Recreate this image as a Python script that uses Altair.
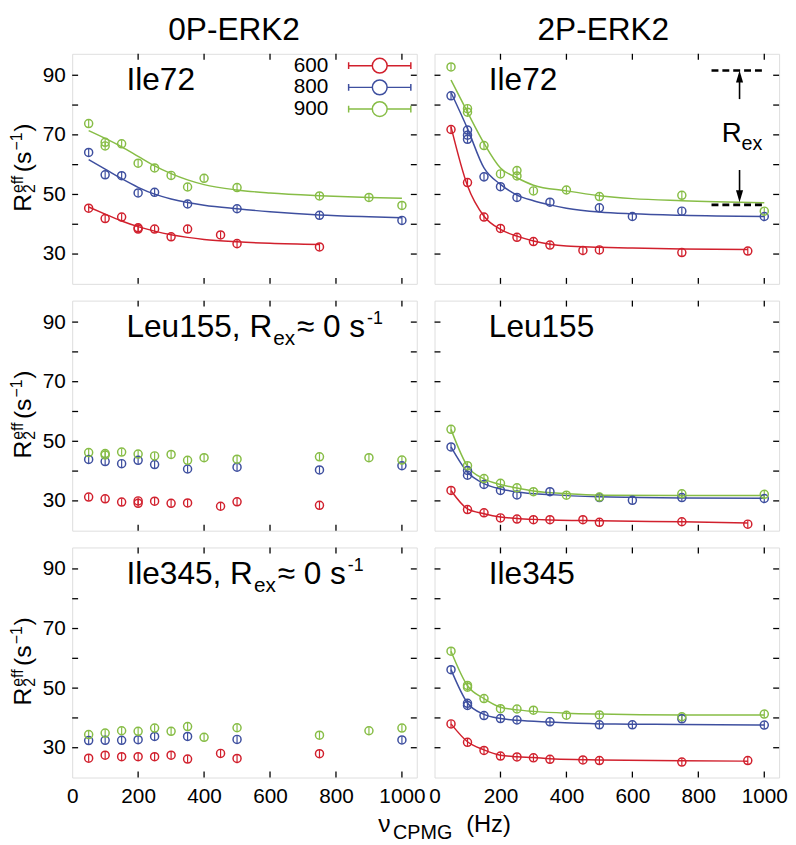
import altair as alt
import pandas as pd

FONT = "Liberation Sans"
FIELDS = ["600", "800", "900"]
COLORS = ["#d1202d", "#3e4f9f", "#87bd46"]
ERR = 1.2  # half height of the error bars (s^-1)

X_DOMAIN = [0, 1045]
Y_DOMAIN = [20, 97.2]
X_LABELS = [0, 200, 400, 600, 800, 1000]
X_TICKS = [200, 400, 600, 800, 1000]
Y_LABELS = [30, 50, 70, 90]
Y_TICKS = [30, 40, 50, 60, 70, 80, 90]

# ---------------- 0P-ERK2, Ile72 ----------------
A600_X = [50, 100, 150, 200, 200, 250, 300, 350, 450, 500, 750]
A600_Y = [45.4, 41.9, 42.4, 38.8, 38.4, 38.4, 35.8, 38.4, 36.4, 33.5, 32.4]
A800_X = [50, 100, 150, 200, 250, 350, 500, 750, 1000]
A800_Y = [64.1, 56.6, 56.3, 50.5, 50.7, 46.8, 45.2, 43.0, 41.3]
A900_X = [50, 100, 100, 150, 200, 250, 300, 350, 400, 500, 750, 900, 1000]
A900_Y = [73.8, 67.5, 66.3, 67.0, 60.5, 58.9, 56.4, 52.5, 55.4, 52.3, 49.5, 49.0, 46.3]
AF600_X = [50, 100, 150, 200, 250, 300, 350, 400, 500, 600, 750]
AF600_Y = [45.8, 43.4, 41.1, 39.2, 37.7, 36.5, 35.6, 34.9, 34.1, 33.6, 33.2]
AF800_X = [50, 100, 150, 200, 250, 300, 350, 400, 500, 600, 750, 900, 1000]
AF800_Y = [61.7, 58.5, 55.3, 52.4, 50.1, 48.5, 47.3, 46.4, 45.2, 44.2, 43.1, 42.5, 42.2]
AF900_X = [50, 100, 150, 200, 250, 300, 350, 400, 500, 600, 750, 900, 1000]
AF900_Y = [71.4, 68.8, 66.0, 62.8, 59.6, 57.0, 54.9, 53.3, 51.5, 50.5, 49.6, 49.0, 48.7]

# ---------------- 2P-ERK2, Ile72 ----------------
B600_X = [50, 100, 150, 200, 250, 300, 350, 450, 500, 750, 950]
B600_Y = [71.8, 54.0, 42.4, 38.6, 35.6, 34.2, 33.0, 31.2, 31.4, 30.5, 31.0]
B800_X = [50, 100, 100, 100, 150, 200, 250, 350, 500, 600, 750, 1000]
B800_Y = [83.1, 71.6, 69.9, 68.5, 55.9, 52.6, 49.0, 47.4, 45.5, 42.6, 44.4, 42.6]
B900_X = [50, 100, 100, 150, 200, 250, 250, 300, 400, 500, 750, 1000]
B900_Y = [92.8, 78.8, 77.6, 66.4, 56.9, 58.0, 56.2, 51.2, 51.5, 49.3, 49.7, 44.4]
BF600_X = [50, 100, 150, 200, 250, 300, 350, 400, 500, 600, 750, 950]
BF600_Y = [72.7, 52.9, 42.7, 38.3, 36.0, 34.4, 33.3, 32.7, 32.3, 32.0, 31.7, 31.5]
BF800_X = [50, 100, 150, 200, 250, 300, 350, 400, 500, 600, 750, 1000]
BF800_Y = [84.2, 72.1, 58.9, 53.4, 49.8, 47.9, 46.5, 45.4, 44.1, 43.5, 43.0, 42.6]
BF900_X = [50, 100, 150, 200, 250, 300, 400, 500, 600, 750, 1000]
BF900_Y = [88.4, 77.6, 67.2, 58.9, 55.6, 53.1, 51.2, 49.6, 48.6, 47.9, 47.2]

# R_ex annotation (2P-ERK2, Ile72)
REX_LEVELS = [91.6, 46.5]
REX_SPAN = [840, 1000]
ARROW_X = [925]
ARROW_UP = [82.0, 89.6]
ARROW_DOWN = [58.2, 49.4]

# ---------------- 0P-ERK2, Leu155 ----------------
C600_X = [50, 100, 150, 200, 200, 250, 300, 350, 450, 500, 750]
C600_Y = [31.3, 30.7, 29.6, 30.0, 29.2, 29.9, 29.2, 29.3, 28.2, 29.7, 28.5]
C800_X = [50, 100, 150, 200, 250, 350, 500, 750, 1000]
C800_Y = [43.9, 43.2, 42.5, 43.6, 42.2, 40.7, 41.3, 40.4, 41.8]
C900_X = [50, 100, 100, 150, 200, 250, 300, 350, 400, 500, 750, 900, 1000]
C900_Y = [46.2, 45.9, 45.4, 46.4, 45.7, 45.1, 45.6, 43.6, 44.5, 44.0, 44.8, 44.5, 43.7]

# ---------------- 2P-ERK2, Leu155 ----------------
D600_X = [50, 100, 150, 200, 250, 300, 350, 450, 500, 750, 950]
D600_Y = [33.5, 27.1, 26.0, 24.3, 23.9, 23.7, 23.7, 23.7, 22.8, 23.0, 22.2]
D800_X = [50, 100, 100, 150, 200, 250, 350, 500, 600, 750, 1000]
D800_Y = [48.1, 40.2, 38.6, 35.5, 33.5, 32.0, 33.1, 31.1, 30.2, 31.1, 30.8]
D900_X = [50, 100, 150, 200, 250, 300, 400, 500, 750, 1000]
D900_Y = [54.0, 41.8, 37.5, 35.9, 34.4, 33.1, 31.9, 31.3, 32.4, 32.2]
DF600_X = [50, 100, 150, 200, 250, 300, 350, 450, 500, 750, 950]
DF600_Y = [33.5, 27.3, 25.7, 24.6, 24.1, 23.8, 23.6, 23.4, 23.3, 23.0, 22.6]
DF800_X = [50, 100, 150, 200, 250, 350, 500, 600, 750, 1000]
DF800_Y = [48.1, 39.6, 35.8, 34.0, 33.0, 32.1, 31.4, 31.2, 31.0, 30.9]
DF900_X = [50, 100, 150, 200, 250, 300, 400, 500, 750, 1000]
DF900_Y = [54.0, 41.6, 37.4, 35.5, 34.3, 33.3, 32.4, 31.9, 31.8, 31.8]

# ---------------- 0P-ERK2, Ile345 ----------------
E600_X = [50, 100, 150, 200, 250, 300, 350, 450, 500, 750]
E600_Y = [26.5, 27.5, 27.0, 27.0, 27.0, 27.5, 26.2, 28.1, 26.4, 28.0]
E800_X = [50, 100, 150, 200, 250, 350, 500, 1000]
E800_Y = [32.4, 32.5, 32.5, 32.7, 33.8, 33.8, 32.8, 32.6]
E900_X = [50, 100, 150, 200, 250, 300, 350, 400, 500, 750, 900, 1000]
E900_Y = [34.4, 34.9, 35.7, 35.5, 36.6, 35.5, 37.1, 33.5, 36.7, 34.2, 35.7, 36.6]

# ---------------- 2P-ERK2, Ile345 ----------------
F600_X = [50, 100, 150, 200, 250, 300, 350, 450, 500, 750, 950]
F600_Y = [38.0, 31.8, 29.1, 27.2, 26.9, 26.6, 26.1, 25.9, 25.7, 25.2, 25.7]
F800_X = [50, 100, 100, 150, 200, 250, 350, 500, 600, 750, 1000]
F800_Y = [56.2, 44.9, 44.2, 40.8, 39.8, 39.3, 38.7, 37.7, 37.7, 39.7, 37.6]
F900_X = [50, 100, 100, 150, 200, 250, 300, 400, 500, 750, 1000]
F900_Y = [62.4, 50.9, 50.3, 46.5, 43.1, 43.0, 42.6, 40.9, 41.0, 40.4, 41.3]
FF600_X = [50, 100, 150, 200, 250, 300, 350, 450, 500, 750, 950]
FF600_Y = [38.0, 32.0, 29.3, 27.5, 27.0, 26.7, 26.3, 26.0, 25.9, 25.6, 25.5]
FF800_X = [50, 100, 150, 200, 250, 350, 500, 600, 750, 1000]
FF800_Y = [56.2, 45.0, 41.2, 39.8, 39.2, 38.6, 38.0, 37.9, 37.8, 37.6]
FF900_X = [50, 100, 150, 200, 250, 300, 400, 500, 750, 1000]
FF900_Y = [62.4, 50.8, 46.5, 43.6, 42.7, 42.2, 41.6, 41.3, 41.0, 41.0]

W, H = 349, 233

XSC = alt.Scale(domain=X_DOMAIN, nice=False, zero=False)
YSC = alt.Scale(domain=Y_DOMAIN, nice=False, zero=False)
CSC = alt.Scale(domain=FIELDS, range=COLORS)

LEGEND_SYMBOL = ("M-3.15,0H-0.75M0.75,0H3.15M-3.15,-0.35V0.35M3.15,-0.35V0.35"
                 "M0.75,0A0.75,0.75,0,1,1,-0.75,0A0.75,0.75,0,1,1,0.75,0Z")
LEGEND = alt.Legend(
    title=None, orient="none", legendX=235, legendY=1, direction="vertical",
    symbolType=LEGEND_SYMBOL, symbolSize=400, symbolStrokeWidth=1.5, symbolOpacity=1,
    symbolFillColor="transparent",
    labelFont=FONT, labelFontSize=21, labelColor="black", labelAlign="right",
    labelOffset={"expr": "-63"}, symbolOffset=65.5, rowPadding=0, padding=0, labelLimit=0,
)
COLOR = alt.Color("field:N", scale=CSC, legend=LEGEND)


def frame(xs_list, ys_list):
    rows = []
    for f, xs, ys in zip(FIELDS, xs_list, ys_list):
        rows += [{"field": f, "nu": x, "r2": y} for x, y in zip(xs, ys)]
    return pd.DataFrame(rows)


def seg(text, x, y, size, dx=0, dy=0, angle=0, align="left", baseline="alphabetic"):
    return alt.Chart(pd.DataFrame({"t": [text]})).mark_text(
        font=FONT, fontSize=size, align=align, baseline=baseline,
        dx=dx, dy=dy, angle=angle, color="black",
    ).encode(text="t:N", x=alt.value(x), y=alt.value(y))


def rex_label(name, main_w):
    # "<name>, R_ex ≈ 0 s^-1"
    return [
        seg(name + ", R", 55, 37, 32),
        seg("ex", 55, 37, 21, dx=main_w + 1, dy=8),
        seg("\u2248 0 s", 55, 37, 32, dx=main_w + 25),
        seg("-1", 55, 37, 18, dx=main_w + 96, dy=-13),
    ]


def ylabel():
    ax, ay = -42, 160
    return [
        seg("R", ax, ay, 25, angle=270),
        seg("eff", ax, ay, 16, dx=19, dy=-8, angle=270),
        seg("2", ax, ay, 16, dx=19, dy=4, angle=270),
        seg("(s", ax, ay, 25, dx=40, angle=270),
        seg("\u22121", ax, ay, 16, dx=62, dy=-9, angle=270),
        seg(")", ax, ay, 25, dx=81, angle=270),
    ]


def panel(pts, fit, labels, left, bottom, extra=()):
    xax = alt.Axis(values=X_LABELS, ticks=False, domain=False, grid=False, title=None,
                   labelFlush=False, labelPadding=8, labelFont=FONT, labelFontSize=21,
                   labelColor="black", format="d") if bottom else None
    yax = alt.Axis(values=Y_LABELS, ticks=False, domain=False, grid=False, title=None,
                   labelPadding=7, labelFont=FONT, labelFontSize=21,
                   labelColor="black", format="d") if left else None

    def X(f):
        return alt.X(f, scale=XSC, axis=xax)

    def Y(f):
        return alt.Y(f, scale=YSC, axis=yax)

    yt = alt.Chart(pd.DataFrame({"v": Y_TICKS}))
    xt = alt.Chart(pd.DataFrame({"v": X_TICKS}))
    rule = dict(color="black", strokeWidth=1.3)
    layers = [
        yt.mark_rule(**rule).encode(y=Y("v:Q"), x=alt.value(0), x2=alt.value(6)),
        yt.mark_rule(**rule).encode(y=Y("v:Q"), x=alt.value(W - 6), x2=alt.value(W)),
        xt.mark_rule(**rule).encode(x=X("v:Q"), y=alt.value(H - 6), y2=alt.value(H)),
        xt.mark_rule(**rule).encode(x=X("v:Q"), y=alt.value(0), y2=alt.value(6)),
    ]
    if fit is not None:
        layers.append(alt.Chart(frame(*fit)).mark_line(strokeWidth=1.5, interpolate="monotone").encode(
            x=X("nu:Q"), y=Y("r2:Q"), color=COLOR, detail="field:N"))
    base = alt.Chart(frame(*pts))
    layers.append(base.transform_calculate(lo=f"datum.r2 - {ERR}", hi=f"datum.r2 + {ERR}").mark_rule(
        strokeWidth=1.2).encode(x=X("nu:Q"), y=Y("lo:Q"), y2="hi:Q", color=COLOR))
    layers.append(base.mark_point(shape="circle", filled=False, size=66, strokeWidth=1.5, opacity=1).encode(
        x=X("nu:Q"), y=Y("r2:Q"), color=COLOR))
    layers += labels
    if left:
        layers += ylabel()
    layers += list(extra)
    return alt.layer(*layers).properties(width=W, height=H)


def rex_annotation():
    lv = pd.DataFrame({"y": REX_LEVELS, "x1": [REX_SPAN[0]] * 2, "x2": [REX_SPAN[1]] * 2})
    dashes = alt.Chart(lv).mark_rule(color="black", strokeWidth=2.6, strokeDash=[7, 4]).encode(
        x=alt.X("x1:Q", scale=XSC, axis=None), x2="x2:Q", y=alt.Y("y:Q", scale=YSC, axis=None))
    shafts = alt.Chart(pd.DataFrame({"x": ARROW_X * 2, "y1": [ARROW_UP[0], ARROW_DOWN[0]],
                                     "y2": [ARROW_UP[1], ARROW_DOWN[1]]})).mark_rule(
        color="black", strokeWidth=1.6).encode(
        x=alt.X("x:Q", scale=XSC, axis=None), y=alt.Y("y1:Q", scale=YSC, axis=None), y2="y2:Q")
    up = alt.Chart(pd.DataFrame({"x": ARROW_X, "y": [ARROW_UP[1]]})).mark_point(
        shape="M0,-1L-0.6,1L0.6,1Z", filled=True, size=144, color="black", opacity=1).encode(
        x=alt.X("x:Q", scale=XSC, axis=None), y=alt.Y("y:Q", scale=YSC, axis=None))
    down = alt.Chart(pd.DataFrame({"x": ARROW_X, "y": [ARROW_DOWN[1]]})).mark_point(
        shape="M0,1L-0.6,-1L0.6,-1Z", filled=True, size=144, color="black", opacity=1).encode(
        x=alt.X("x:Q", scale=XSC, axis=None), y=alt.Y("y:Q", scale=YSC, axis=None))
    return [dashes, shafts, up, down,
            seg("R", 291, 89, 28), seg("ex", 291, 89, 20, dx=20, dy=8)]


def xtitle():
    ax, ay = -57, H + 55
    return [
        seg("\u03bd", ax, ay, 25),
        seg("CPMG", ax, ay, 20, dx=15, dy=7),
        seg("(Hz)", ax, ay, 24, dx=89),
    ]


pA = panel(([A600_X, A800_X, A900_X], [A600_Y, A800_Y, A900_Y]),
           ([AF600_X, AF800_X, AF900_X], [AF600_Y, AF800_Y, AF900_Y]),
           [seg("Ile72", 55, 37, 32),
            seg("0P-ERK2", 164, -39, 32, align="center", baseline="top")],
           left=True, bottom=False)
pB = panel(([B600_X, B800_X, B900_X], [B600_Y, B800_Y, B900_Y]),
           ([BF600_X, BF800_X, BF900_X], [BF600_Y, BF800_Y, BF900_Y]),
           [seg("Ile72", 55, 37, 32),
            seg("2P-ERK2", 171, -39, 32, align="center", baseline="top")],
           left=False, bottom=False, extra=rex_annotation())
pC = panel(([C600_X, C800_X, C900_X], [C600_Y, C800_Y, C900_Y]), None,
           rex_label("Leu155", 147.6), left=True, bottom=False)
pD = panel(([D600_X, D800_X, D900_X], [D600_Y, D800_Y, D900_Y]),
           ([DF600_X, DF800_X, DF900_X], [DF600_Y, DF800_Y, DF900_Y]),
           [seg("Leu155", 55, 37, 32)], left=False, bottom=False)
pE = panel(([E600_X, E800_X, E900_X], [E600_Y, E800_Y, E900_Y]), None,
           rex_label("Ile345", 128.1), left=True, bottom=True)
pF = panel(([F600_X, F800_X, F900_X], [F600_Y, F800_Y, F900_Y]),
           ([FF600_X, FF800_X, FF900_X], [FF600_Y, FF800_Y, FF900_Y]),
           [seg("Ile345", 55, 37, 32)], left=False, bottom=True, extra=xtitle())

chart = alt.concat(pA, pB, pC, pD, pE, pF, columns=2, bounds="flush",
                   spacing={"row": 17, "column": 18}).properties(
    padding={"left": 0, "top": 0, "right": 0, "bottom": 0}
).configure_view(stroke="#111111", strokeWidth=1.8).configure_axis(grid=False).configure(font=FONT)

chart.save("out.html", embed_options={"renderer": "svg", "actions": False})
